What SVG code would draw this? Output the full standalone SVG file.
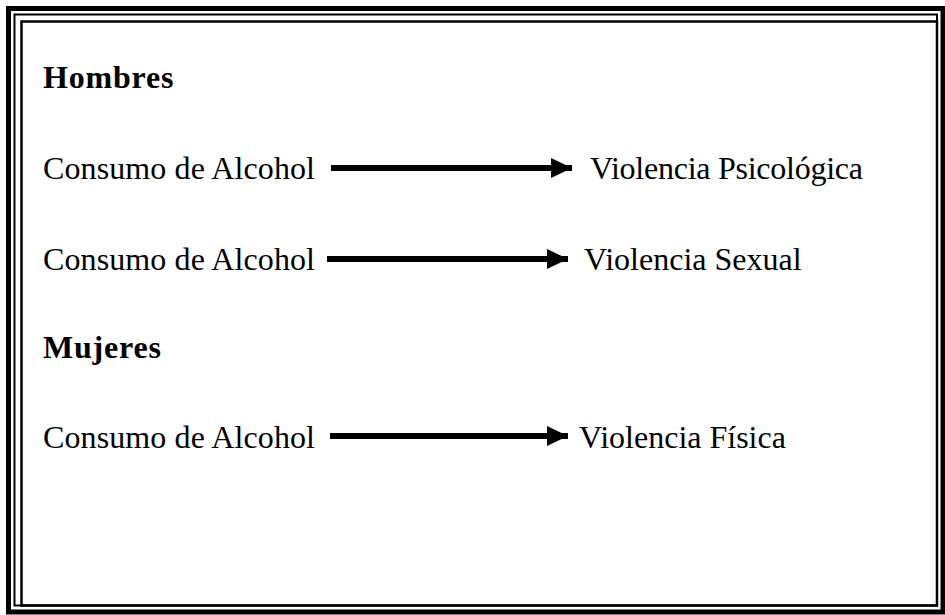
<svg xmlns="http://www.w3.org/2000/svg" width="945" height="615" viewBox="0 0 945 615">
<style>
.t{font-family:"Liberation Serif","Times New Roman",serif;font-size:32px;fill:#000}
.b{font-weight:bold;letter-spacing:0.8px}
.ln{stroke:#000;stroke-width:6;fill:none}
.fr{fill:none;stroke:#000}
</style>
<defs>
<marker id="ah" viewBox="0 0 21 20" refX="21" refY="10" markerWidth="21" markerHeight="20" markerUnits="userSpaceOnUse" orient="auto">
<path d="M0,0 L21,10 L0,20 Z" fill="#000"/>
</marker>
</defs>
<rect width="945" height="615" fill="#fff"/>
<g id="frame">
<rect class="fr" x="8.5" y="8.5" width="934.5" height="603.5" stroke-width="5"/>
<rect class="fr" x="14.5" y="14.5" width="922.5" height="591" stroke-width="2"/>
<rect class="fr" x="21.5" y="21.5" width="915.5" height="584" stroke-width="2.5"/>
</g>
<g id="hombres"><text class="t b" x="43" y="88">Hombres</text></g>
<g id="n1a"><text class="t" x="43" y="179" textLength="272">Consumo de Alcohol</text></g>
<g id="n1b"><text class="t" x="590" y="179" textLength="273">Violencia Psicológica</text></g>
<g id="n2a"><text class="t" x="43" y="270" textLength="272">Consumo de Alcohol</text></g>
<g id="n2b"><text class="t" x="584" y="270">Violencia Sexual</text></g>
<g id="mujeres"><text class="t b" x="43" y="358">Mujeres</text></g>
<g id="n3a"><text class="t" x="43" y="448" textLength="272">Consumo de Alcohol</text></g>
<g id="n3b"><text class="t" x="579" y="448">Violencia Física</text></g>
<g id="connectors">
<line class="ln" x1="331" y1="168" x2="572" y2="168" marker-end="url(#ah)"/>
<line class="ln" x1="327" y1="259" x2="568" y2="259" marker-end="url(#ah)"/>
<line class="ln" x1="330" y1="436" x2="568" y2="436" marker-end="url(#ah)"/>
</g>
</svg>
